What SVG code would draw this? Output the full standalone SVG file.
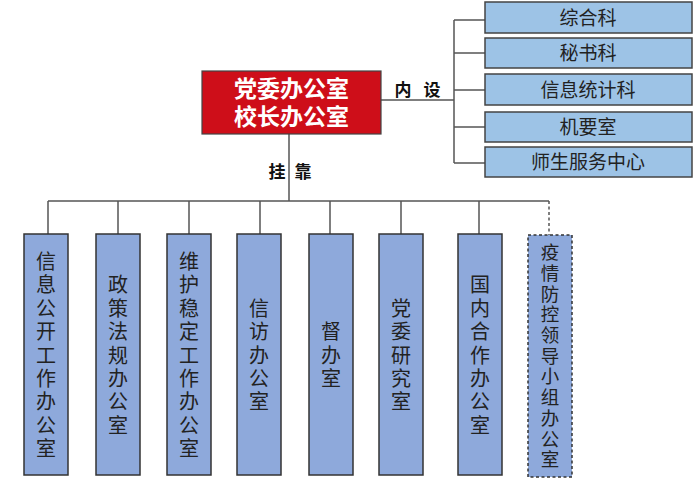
<svg xmlns="http://www.w3.org/2000/svg" width="693" height="483" viewBox="0 0 693 483">
<style>
.conn{stroke:#555;stroke-width:1.5;fill:none}
.dash{stroke-dasharray:3 2.5}
.main{fill:#CE0E19;stroke:#444;stroke-width:1.2}
.sub{fill:#9DC3E6;stroke:#444;stroke-width:1.5}
.col{fill:#8EA9DB;stroke:#333;stroke-width:1.5}
.tw{font-family:"Liberation Sans","Noto Sans CJK SC",sans-serif;font-weight:bold;fill:#fff;font-size:23px;text-anchor:middle;dominant-baseline:central}
.tl{font-family:"Liberation Sans","Noto Sans CJK SC",sans-serif;font-weight:bold;fill:#111;font-size:17px;text-anchor:middle;dominant-baseline:central}
.ts{font-family:"Liberation Sans","Noto Sans CJK SC",sans-serif;fill:#222;font-size:19px;text-anchor:middle;dominant-baseline:central}
.tv{font-family:"Liberation Sans","Noto Sans CJK SC",sans-serif;fill:#222;font-size:20px;text-anchor:middle;dominant-baseline:central}
.tv8{font-family:"Liberation Sans","Noto Sans CJK SC",sans-serif;fill:#222;font-size:18.5px;text-anchor:middle;dominant-baseline:central}
</style>
<rect width="693" height="483" fill="#fff"/>
<g id="connectors">
<path class="conn" d="M381 100H454M454 20V163M454 20H485M454 53H485M454 90H485M454 127H485M454 163H485"/>
<path class="conn" d="M289 134V201M48 201H549M48 201V234M118 201V234M189 201V234M260 201V234M330 201V234M401 201V234M479 201V234"/>
<path class="conn dash" d="M549 201V235"/>
<text class="tl"><tspan x="403" y="90">内</tspan><tspan x="432" y="90">设</tspan></text>
<text class="tl"><tspan x="277" y="172">挂</tspan><tspan x="303" y="172">靠</tspan></text>
</g>
<g id="main">
<rect class="main" x="202" y="71" width="179" height="63"/>
<text class="tw"><tspan x="291.5" y="89">党委办公室</tspan><tspan x="291.5" y="117">校长办公室</tspan></text>
</g>
<g id="s1"><rect class="sub" x="485" y="2" width="207" height="31"/><text class="ts" x="588" y="18">综合科</text></g>
<g id="s2"><rect class="sub" x="485" y="38" width="207" height="30"/><text class="ts" x="588" y="53">秘书科</text></g>
<g id="s3"><rect class="sub" x="485" y="74" width="207" height="31"/><text class="ts" x="588" y="90">信息统计科</text></g>
<g id="s4"><rect class="sub" x="485" y="112" width="207" height="30"/><text class="ts" x="588" y="127">机要室</text></g>
<g id="s5"><rect class="sub" x="485" y="147" width="207" height="30"/><text class="ts" x="588" y="162">师生服务中心</text></g>
<g id="c1"><rect class="col" x="24" y="234" width="44" height="241"/>
<text class="tv"><tspan x="46" y="261.9">信</tspan><tspan x="46" y="285.3">息</tspan><tspan x="46" y="308.7">公</tspan><tspan x="46" y="332.1">开</tspan><tspan x="46" y="355.5">工</tspan><tspan x="46" y="378.9">作</tspan><tspan x="46" y="402.3">办</tspan><tspan x="46" y="425.7">公</tspan><tspan x="46" y="449.1">室</tspan></text></g>
<g id="c2"><rect class="col" x="96" y="234" width="44" height="241"/>
<text class="tv"><tspan x="118" y="285.3">政</tspan><tspan x="118" y="308.7">策</tspan><tspan x="118" y="332.1">法</tspan><tspan x="118" y="355.5">规</tspan><tspan x="118" y="378.9">办</tspan><tspan x="118" y="402.3">公</tspan><tspan x="118" y="425.7">室</tspan></text></g>
<g id="c3"><rect class="col" x="167" y="234" width="44" height="241"/>
<text class="tv"><tspan x="189" y="261.9">维</tspan><tspan x="189" y="285.3">护</tspan><tspan x="189" y="308.7">稳</tspan><tspan x="189" y="332.1">定</tspan><tspan x="189" y="355.5">工</tspan><tspan x="189" y="378.9">作</tspan><tspan x="189" y="402.3">办</tspan><tspan x="189" y="425.7">公</tspan><tspan x="189" y="449.1">室</tspan></text></g>
<g id="c4"><rect class="col" x="237" y="234" width="44" height="241"/>
<text class="tv"><tspan x="259" y="308.7">信</tspan><tspan x="259" y="332.1">访</tspan><tspan x="259" y="355.5">办</tspan><tspan x="259" y="378.9">公</tspan><tspan x="259" y="402.3">室</tspan></text></g>
<g id="c5"><rect class="col" x="309" y="234" width="44" height="241"/>
<text class="tv"><tspan x="331" y="332.1">督</tspan><tspan x="331" y="355.5">办</tspan><tspan x="331" y="378.9">室</tspan></text></g>
<g id="c6"><rect class="col" x="379" y="234" width="44" height="241"/>
<text class="tv"><tspan x="401" y="308.7">党</tspan><tspan x="401" y="332.1">委</tspan><tspan x="401" y="355.5">研</tspan><tspan x="401" y="378.9">究</tspan><tspan x="401" y="402.3">室</tspan></text></g>
<g id="c7"><rect class="col" x="458" y="234" width="44" height="241"/>
<text class="tv"><tspan x="480" y="285.3">国</tspan><tspan x="480" y="308.7">内</tspan><tspan x="480" y="332.1">合</tspan><tspan x="480" y="355.5">作</tspan><tspan x="480" y="378.9">办</tspan><tspan x="480" y="402.3">公</tspan><tspan x="480" y="425.7">室</tspan></text></g>
<g id="c8"><rect class="col dash" x="528" y="235" width="44" height="242"/>
<text class="tv8"><tspan x="550" y="252">疫</tspan><tspan x="550" y="272.7">情</tspan><tspan x="550" y="293.5">防</tspan><tspan x="550" y="314.2">控</tspan><tspan x="550" y="334.9">领</tspan><tspan x="550" y="355.7">导</tspan><tspan x="550" y="376.4">小</tspan><tspan x="550" y="397.1">组</tspan><tspan x="550" y="417.8">办</tspan><tspan x="550" y="438.6">公</tspan><tspan x="550" y="459.3">室</tspan></text>
</g>
</svg>
